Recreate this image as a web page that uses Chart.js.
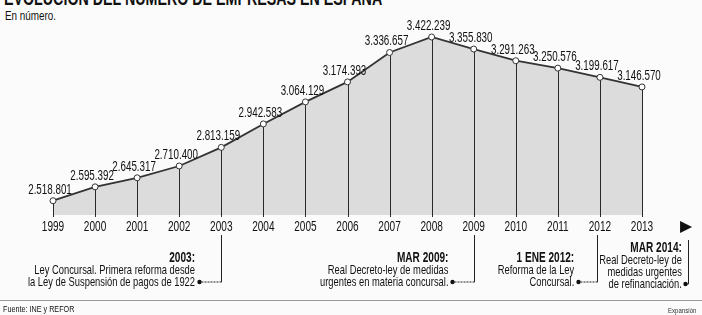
<!DOCTYPE html>
<html>
<head>
<meta charset="utf-8">
<script src="https://cdn.jsdelivr.net/npm/chart.js"></script>
<style>
    html, body { margin: 0; padding: 0; }
    body {
        width: 702px; height: 315px; overflow: hidden; position: relative;
        background: #fbfbfb;
        font-family: "Liberation Sans", Arial, sans-serif;
        color: #111;
    }
    #chart { position: absolute; left: 0; top: 0; }
    .narrow { transform: scaleX(0.76); transform-origin: left top; }
    .title { position: absolute; left: 4px; top: -12px; font-size: 20px; line-height: 20px; font-weight: bold; white-space: nowrap; }
    .sub { position: absolute; left: 5px; top: 9px; font-size: 13px; line-height: 13px; }
    .note { position: absolute; text-align: right; font-size: 13px; line-height: 12px; white-space: nowrap;
            transform: scaleX(0.72); transform-origin: right top; }
    .note b { font-size: 14px; }
    .rule { position: absolute; left: 0; top: 300px; width: 702px; height: 1px; background: #9a9a9a; }
    .source { position: absolute; left: 3px; top: 304px; font-size: 9.5px; line-height: 10px; white-space: nowrap; }
    .brand { position: absolute; left: 668px; top: 306px; font-size: 8px; line-height: 9px; color: #333; white-space: nowrap; }
</style>
</head>
<body>
<div class="title narrow" id="title">EVOLUCIÓN DEL NÚMERO DE EMPRESAS EN ESPAÑA</div>
<div class="sub narrow">En número.</div>
<canvas id="chart" width="702" height="315"></canvas>
<div id="notes"></div>
<div class="rule"></div>
<div class="source narrow">Fuente: INE y REFOR</div>
<div class="brand narrow">Expansión</div>
<script>
// Data
const years = ['1999', '2000', '2001', '2002', '2003', '2004', '2005', '2006',
               '2007', '2008', '2009', '2010', '2011', '2012', '2013'];
const empresas = [2518801, 2595392, 2645317, 2710400, 2813159, 2942583, 3064129, 3174393,
                  3336657, 3422239, 3355830, 3291263, 3250576, 3199617, 3146570];

// Milestones under the axis (index on the year scale, 15 = the arrow after 2013)
const noteIndex = [4, 10, 13, 15];
const noteTitles = ['2003:', 'MAR 2009:', '1 ENE 2012:', 'MAR 2014:'];
const noteLines = [
    ['Ley Concursal. Primera reforma desde', 'la Ley de Suspensión de pagos de 1922'],
    ['Real Decreto-ley de medidas', 'urgentes en materia concursal.'],
    ['Reforma de la Ley', 'Concursal.'],
    ['Real Decreto-ley de', 'medidas urgentes', 'de refinanciación.']
];

const FONT = '"Liberation Sans", Arial, sans-serif';
const INK = '#111';

function fmt(n) {
    return String(n).replace(/\B(?=(\d{3})+(?!\d))/g, '.');
}

// condensed text: let the canvas squeeze it to a fraction of its natural width
function narrowText(ctx, text, x, y, squeeze) {
    const w = ctx.measureText(text).width;
    ctx.fillText(text, x, y, w * squeeze);
}

// bracket geometry for each note: nudge of the vertical, gap to the dot, top of vertical
const noteShift = [0, 0, -3, 4];
const noteGap = [22, 22, 19, 3];
const noteTop = [235, 235, 235, 240];

const extrasPlugin = {
    id: 'extras',
    afterDatasetsDraw(chart) {
        const ctx = chart.ctx;
        const meta = chart.getDatasetMeta(0);
        const x = chart.scales.x;
        const base = chart.chartArea.bottom + 2;
        ctx.save();

        // drop lines from each point to the base
        ctx.strokeStyle = '#2a2a2a';
        ctx.lineWidth = 1;
        meta.data.forEach(p => {
            const px = Math.round(p.x) + 0.5;
            ctx.beginPath();
            ctx.moveTo(px, p.y + 3);
            ctx.lineTo(px, base);
            ctx.stroke();
        });

        // value labels
        ctx.fillStyle = INK;
        ctx.font = '14px ' + FONT;
        ctx.textAlign = 'center';
        ctx.textBaseline = 'middle';
        meta.data.forEach((p, i) => {
            narrowText(ctx, fmt(empresas[i]), p.x - 3, p.y - 11, 0.7);
        });

        // year labels
        ctx.font = '14px ' + FONT;
        years.forEach((y, i) => {
            narrowText(ctx, y, x.getPixelForValue(i), 227, 0.72);
        });

        // arrow after the last year
        const ax = x.getPixelForValue(15);
        ctx.beginPath();
        ctx.moveTo(ax - 4, 221);
        ctx.lineTo(ax + 8, 227);
        ctx.lineTo(ax - 4, 233);
        ctx.closePath();
        ctx.fill();

        // milestone brackets
        ctx.strokeStyle = '#222';
        noteIndex.forEach((idx, k) => {
            const bx = Math.round(x.getPixelForValue(idx) + noteShift[k]) + 0.5;
            const by = k === 3 ? 284 : 282;
            const dx = bx - noteGap[k];
            ctx.setLineDash([]);
            ctx.beginPath();
            ctx.moveTo(bx, noteTop[k]);
            ctx.lineTo(bx, by);
            ctx.stroke();
            ctx.setLineDash([2, 1]);
            ctx.beginPath();
            ctx.moveTo(bx, by);
            ctx.lineTo(dx, by);
            ctx.stroke();
            ctx.setLineDash([]);
            ctx.beginPath();
            ctx.arc(dx, by, 2.2, 0, Math.PI * 2);
            ctx.fill();

            const div = document.createElement('div');
            div.className = 'note';
            div.style.right = (702 - (dx - 4)) + 'px';
            div.style.top = ((k === 3 ? 241 : 251)) + 'px';
            div.innerHTML = '<b>' + noteTitles[k] + '</b><br>' + noteLines[k].join('<br>');
            document.getElementById('notes').appendChild(div);
        });
        ctx.restore();
    }
};

// stretch the title to the printed width
const titleEl = document.getElementById('title');
titleEl.style.transform = 'scaleX(' + (378 / titleEl.scrollWidth).toFixed(3) + ')';

const ctx = document.getElementById('chart').getContext('2d');
new Chart(ctx, {
    type: 'line',
    data: {
        labels: years,
        datasets: [{
            data: empresas,
            borderColor: '#333',
            borderWidth: 1.8,
            backgroundColor: '#dcdcdc',
            fill: 'start',
            tension: 0,
            pointRadius: 3,
            pointBorderWidth: 1,
            pointBackgroundColor: '#fff',
            pointBorderColor: '#333'
        }]
    },
    options: {
        responsive: false,
        animation: false,
        layout: { padding: { left: 53, right: 60, top: 20, bottom: 100 } },
        plugins: { legend: { display: false }, tooltip: { enabled: false } },
        scales: {
            x: { display: false, offset: false },
            y: { display: false, min: 2440000, max: 3516000 }
        }
    },
    plugins: [extrasPlugin]
});
</script>
</body>
</html>
